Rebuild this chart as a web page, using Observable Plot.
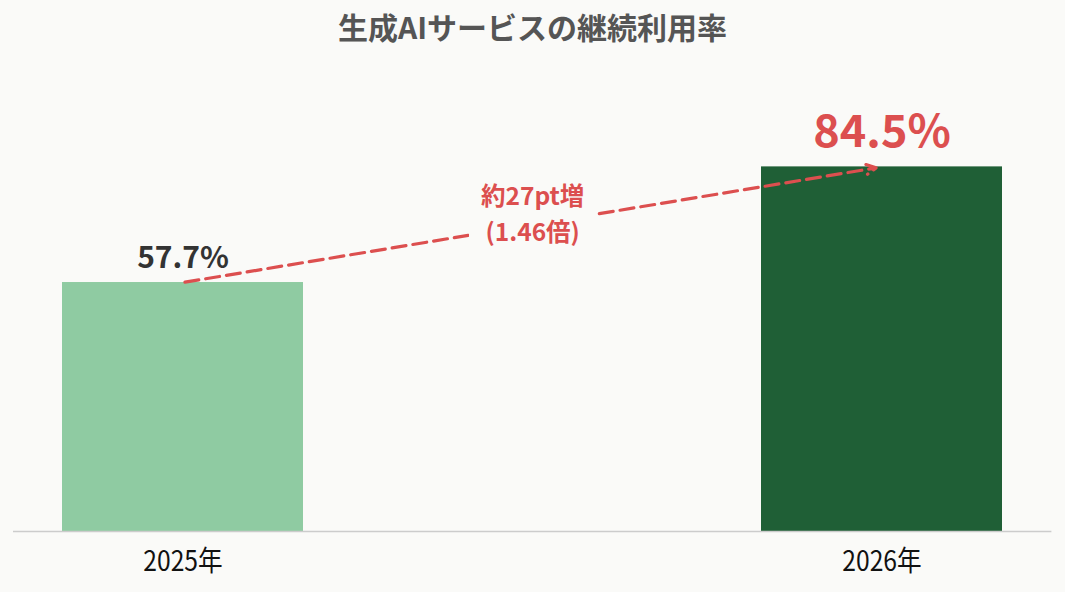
<!DOCTYPE html>
<html><head><meta charset="utf-8">
<script src="https://cdn.jsdelivr.net/npm/d3@7"></script>
<script src="https://cdn.jsdelivr.net/npm/@observablehq/plot@0.6"></script>
<style>
html,body{margin:0;padding:0;background:#fafaf8;}
body{width:1065px;height:592px;overflow:hidden;font-family:"Noto Sans CJK JP","Noto Sans",sans-serif;}
#title{height:52px;line-height:52px;text-align:center;font-size:30px;font-weight:700;color:#555;}
#chart svg{display:block;background:#fafaf8;}
</style></head><body>
<div id="title">生成AIサービスの継続利用率</div>
<div id="chart"></div>
<script>
const years = ["2025年", "2026年"];
const rates = [57.7, 84.5];
const valueLabels = ["57.7%", "84.5%"];
const changeLabel = "約27pt増\n(1.46倍)";

const data = years.map((year, i) => ({year, rate: rates[i], label: valueLabels[i]}));
const arrowData = [{from: years[0], to: years[1], y1: rates[0], y2: rates[1], mid: (rates[0] + rates[1]) / 2, label: changeLabel}];

const red = "#dc4f4f";
const bg = "#fafaf8";

const chart = Plot.plot({
  width: 1065,
  height: 540,
  marginTop: 47.5,
  marginBottom: 61,
  marginLeft: 13,
  marginRight: 13.6,
  style: {background: bg, fontFamily: "'Noto Sans CJK JP', 'Noto Sans', sans-serif", overflow: "visible"},
  x: {domain: years, paddingInner: 0.6555, paddingOuter: 0.07, label: null, tickSize: 0, tickPadding: 20},
  y: {domain: [0, 100], axis: null},
  color: {domain: years, range: ["#8fcba2", "#1f5f36"]},
  marks: [
    Plot.barY(data, {x: "year", y: "rate", fill: "year"}),
    Plot.ruleY([0], {stroke: "#cccccc", strokeWidth: 1.5}),
    Plot.axisX({tickSize: 0, tickPadding: 20, fontSize: 28, fill: "#111", label: null}),
    Plot.arrow(arrowData, {x1: "from", y1: "y1", x2: "to", y2: "y2", stroke: red, strokeWidth: 3.2, strokeDasharray: "14,7", headLength: 5, headAngle: 55, insetEnd: 6, insetStart: 2}),
    Plot.text(arrowData, {frameAnchor: "middle", y: "mid", text: "label", dy: -13, fontSize: 24.5, fontWeight: 700, lineHeight: 1.45, lineAnchor: "middle", fill: red}),
    Plot.text(data.filter(d => d.year === years[0]), {x: "year", y: "rate", text: "label", dy: -15, lineAnchor: "bottom", fontSize: 30, fontWeight: 700, fill: "#333"}),
    Plot.text(data.filter(d => d.year === years[1]), {x: "year", y: "rate", text: "label", dy: -20, lineAnchor: "bottom", fontSize: 45, fontWeight: 700, fill: red})
  ]
});
document.getElementById("chart").appendChild(chart);
d3.select(chart).selectAll('g[aria-label="x-axis tick label"] text').each(function() {
  const t = this.getAttribute("transform") || "";
  this.setAttribute("transform", t + " scale(0.88,1)");
});
// background knock-out behind the change annotation so the dashed arrow breaks around it
const svgBox = chart.getBoundingClientRect();
Array.from(chart.querySelectorAll("text")).filter(t => t.textContent.includes("約27pt")).forEach(t => {
  const b = t.getBoundingClientRect();
  const padX = 12, padY = 0;
  const r = document.createElementNS("http://www.w3.org/2000/svg", "rect");
  r.setAttribute("x", b.left - svgBox.left - padX);
  r.setAttribute("y", b.top - svgBox.top - padY);
  r.setAttribute("width", b.width + 2 * padX);
  r.setAttribute("height", b.height + 2 * padY);
  r.setAttribute("fill", bg);
  const g = t.parentNode;
  g.parentNode.insertBefore(r, g);
});
</script>
</body></html>
